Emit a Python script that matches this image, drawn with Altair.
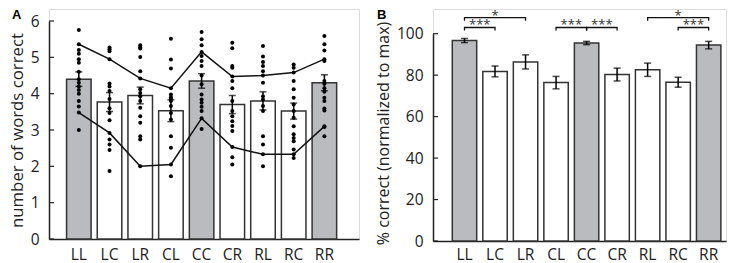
import altair as alt
import pandas as pd

categories = ["LL", "LC", "LR", "CL", "CC", "CR", "RL", "RC", "RR"]
same_side = ["LL", "CC", "RR"]

# Panel A: number of words correct
a_mean = [4.40, 3.77, 3.95, 3.53, 4.35, 3.70, 3.80, 3.52, 4.30]
a_sem = [0.20, 0.26, 0.23, 0.30, 0.20, 0.25, 0.25, 0.22, 0.22]
a_dots = {
    "LL": [5.75, 5.36, 5.20, 5.10, 4.95, 4.85, 4.60, 4.40, 4.30, 4.20, 4.10, 4.00, 3.80, 3.65, 3.48, 3.00],
    "LC": [5.27, 5.22, 5.17, 4.95, 4.28, 4.20, 4.07, 3.85, 3.60, 3.47, 3.27, 2.92, 2.74, 2.60, 2.45, 1.87],
    "LR": [5.33, 5.28, 5.24, 5.01, 4.62, 4.42, 4.12, 4.02, 3.93, 3.80, 3.61, 3.38, 3.20, 2.83, 2.74, 2.00],
    "CL": [5.51, 4.94, 4.69, 4.15, 3.98, 3.90, 3.85, 3.80, 3.66, 3.47, 3.29, 2.83, 2.51, 2.05, 1.73],
    "CC": [5.70, 5.50, 5.33, 5.15, 5.04, 4.90, 4.76, 4.50, 4.26, 3.98, 3.84, 3.75, 3.64, 3.52, 3.32, 3.03],
    "CR": [5.40, 5.25, 4.76, 4.71, 4.47, 4.35, 4.15, 3.80, 3.52, 3.38, 3.24, 3.11, 2.97, 2.53, 2.25, 2.05],
    "RL": [5.31, 5.02, 4.87, 4.76, 4.62, 4.50, 4.30, 3.93, 3.84, 3.66, 3.52, 2.83, 2.60, 2.33, 2.00],
    "RC": [4.80, 4.71, 4.58, 4.35, 4.12, 3.89, 3.70, 3.52, 3.34, 3.10, 2.88, 2.78, 2.69, 2.46, 2.33, 2.23],
    "RR": [5.59, 5.36, 5.19, 4.95, 4.90, 4.35, 4.27, 4.15, 4.05, 3.89, 3.80, 3.59, 3.54, 3.10, 3.08, 2.83],
}
a_upper = [5.36, 4.95, 4.42, 4.15, 5.15, 4.47, 4.50, 4.58, 4.95]
a_lower = [3.48, 2.92, 2.00, 2.05, 3.32, 2.53, 2.33, 2.33, 3.10]
a_ticks = [0, 1, 2, 3, 4, 5, 6]

# Panel B: % correct (normalized to max)
b_mean = [96.7, 81.8, 86.4, 76.4, 95.5, 80.3, 82.6, 76.6, 94.5]
b_sem = [1.0, 2.6, 3.4, 3.0, 0.8, 3.1, 3.2, 2.4, 1.8]
b_ticks = [0, 20, 40, 60, 80, 100]

bracket_from = ["LL", "LL", "CL", "CC", "RL", "RC"]
bracket_to = ["LC", "LR", "CC", "CR", "RR", "RR"]
bracket_label = ["***", "*", "***", "***", "*", "***"]
bracket_level = [103.0, 107.8, 103.0, 103.0, 107.8, 103.0]
bracket_drop = 1.5

GRAY = "#babbbe"
EDGE = "#333333"
FONT = "Open Sans"

kind = ["same" if c in same_side else "diff" for c in categories]
fill_scale = alt.Scale(domain=["same", "diff"], range=[GRAY, "white"])


def bar_df(means, sems):
    return pd.DataFrame({
        "cat": categories, "mean": means, "kind": kind,
        "lo": [m - s for m, s in zip(means, sems)],
        "hi": [m + s for m, s in zip(means, sems)],
    })


def cap_df(means, sems):
    rows = []
    for c, m, s in zip(categories, means, sems):
        rows.append({"cat": c, "v": m - s})
        rows.append({"cat": c, "v": m + s})
    return pd.DataFrame(rows)


def make_axes(ticks, title, xpad, title_size, title_pad, title_y=None):
    xaxis = alt.Axis(title=None, ticks=False, labelAngle=0, labelPadding=xpad,
                     labelFontSize=15.5, labelColor="#222", domainColor="#222",
                     domainWidth=1.5, labelFont=FONT, labelOverlap=False)
    kw = dict(values=ticks, ticks=False, grid=False, labelPadding=10,
              labelFontSize=15.5, labelColor="#222", labelFont=FONT,
              labelOverlap=False, labelFlush=False,
              domainColor="#222", domainWidth=1.5, title=title,
              titleFontSize=title_size, titleFontWeight="normal", titleColor="#222",
              titleFont=FONT, titlePadding=title_pad)
    if title_y is not None:
        kw["titleY"] = title_y
    return xaxis, alt.Axis(**kw)


def panel(xscale, yscale, xaxis, yaxis, means, sems, ticks):
    xs = alt.X("cat:N", scale=xscale, sort=categories, axis=xaxis)

    def Y(field):
        return alt.Y(field, scale=yscale, axis=yaxis)

    bdf = bar_df(means, sems)
    bars = alt.Chart(bdf).mark_bar(stroke=EDGE, strokeWidth=1.5).encode(
        x=xs, y=Y("mean:Q"),
        fill=alt.Fill("kind:N", scale=fill_scale, legend=None),
    )
    err = alt.Chart(bdf).mark_rule(color="black", strokeWidth=1.5).encode(
        x=xs, y=Y("lo:Q"), y2="hi:Q")
    caps = alt.Chart(cap_df(means, sems)).mark_tick(color="black", thickness=1.5, size=7).encode(
        x=xs, y=Y("v:Q"))
    tk = alt.Chart(pd.DataFrame({"t": ticks})).mark_rule(color="#222", strokeWidth=1.2).encode(
        y=Y("t:Q"), x=alt.value(0), x2=alt.value(5))
    return bars, err, caps, tk, xs, Y


# ---- Panel A
xa = alt.Scale(domain=categories, paddingInner=0.2, paddingOuter=0.65, align=0.44)
ya = alt.Scale(domain=[0, 6], range=[230, 12], nice=False, zero=False)
xaxA, yaxA = make_axes(a_ticks, "number of words correct", 8, 16.8, 4)
barsA, errA, capsA, tkA, xsA, YA = panel(xa, ya, xaxA, yaxA, a_mean, a_sem, a_ticks)

line_rows = []
for name, vals in (("upper", a_upper), ("lower", a_lower)):
    for c, v in zip(categories, vals):
        line_rows.append({"cat": c, "v": v, "s": name})
linesA = alt.Chart(pd.DataFrame(line_rows)).mark_line(color="#111", strokeWidth=1.5).encode(
    x=xsA, y=YA("v:Q"), detail="s:N")

dot_rows = [{"cat": c, "v": v} for c in categories for v in a_dots[c]]
dotsA = alt.Chart(pd.DataFrame(dot_rows)).mark_circle(color="black", opacity=1, size=16).encode(
    x=xsA, y=YA("v:Q"))

labelA = alt.Chart(pd.DataFrame({"t": ["A"]})).mark_text(
    font="Liberation Sans", fontSize=13, fontWeight="bold", align="left", baseline="top",
    color="black").encode(text="t:N", x=alt.value(-37), y=alt.value(0))

chartA = alt.layer(barsA, errA, capsA, linesA, dotsA, tkA, labelA).properties(width=310, height=230)

# ---- Panel B
xb = alt.Scale(domain=categories, paddingInner=0.2, paddingOuter=0.40, align=0.79)
yb = alt.Scale(domain=[0, 100], range=[232, 24.7], nice=False, zero=False)
xaxB, yaxB = make_axes(b_ticks, "% correct (normalized to max)", 6, 16, 5, title_y=124)
barsB, errB, capsB, tkB, xsB, YB = panel(xb, yb, xaxB, yaxB, b_mean, b_sem, b_ticks)

br_rows, mid_rows, gap_rows = [], [], []
for k, (f, t, lab, lev) in enumerate(zip(bracket_from, bracket_to, bracket_label, bracket_level)):
    i1, i2 = categories.index(f), categories.index(t)
    for j, (c, v) in enumerate(((f, lev - bracket_drop), (f, lev), (t, lev), (t, lev - bracket_drop))):
        br_rows.append({"id": k, "o": j, "cat": c, "v": v})
    if (i2 - i1) % 2 == 0:
        mid_rows.append({"cat": categories[(i1 + i2) // 2], "v": lev, "lab": lab})
    else:
        gap_rows.append({"cat": categories[(i1 + i2) // 2], "v": lev, "lab": lab})

bracketsB = alt.Chart(pd.DataFrame(br_rows)).mark_line(color="#111", strokeWidth=1.3).encode(
    x=xsB, y=YB("v:Q"), detail="id:N", order="o:Q")
starsMid = alt.Chart(pd.DataFrame(mid_rows)).mark_text(
    font=FONT, fontSize=13, color="#333", baseline="alphabetic", dy=2).encode(
    x=xsB, y=YB("v:Q"), text="lab:N")
starsGap = alt.Chart(pd.DataFrame(gap_rows)).mark_text(
    font=FONT, fontSize=13, color="#333", baseline="alphabetic", dy=2, dx=15.25).encode(
    x=xsB, y=YB("v:Q"), text="lab:N")

labelB = alt.Chart(pd.DataFrame({"t": ["B"]})).mark_text(
    font="Liberation Sans", fontSize=13, fontWeight="bold", align="left", baseline="top",
    color="black").encode(text="t:N", x=alt.value(-56), y=alt.value(0))

chartB = alt.layer(barsB, errB, capsB, tkB, bracketsB, starsMid, starsGap, labelB).properties(
    width=293, height=232)

chart = alt.hconcat(chartA, chartB, spacing=74, bounds="flush").properties(
    padding=0
).configure_view(stroke=None).configure(font=FONT)

chart.save("out.html", embed_options={"renderer": "svg", "actions": False})
